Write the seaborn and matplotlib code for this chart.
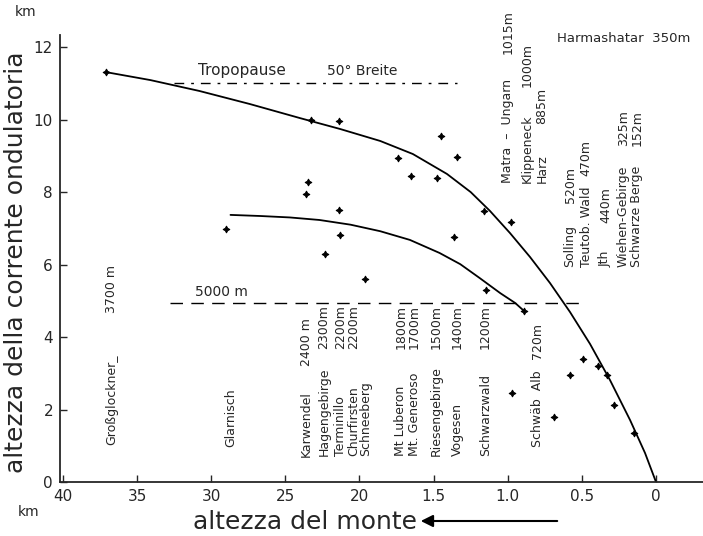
import matplotlib
matplotlib.use("Agg")
import matplotlib.pyplot as plt
import seaborn as sns
import pandas as pd

# observed points: mountain height (km) vs height of the wave current (km)
obs_x = [3.71, 2.33, 2.14, 2.35, 2.36, 2.14, 2.90, 2.13, 2.23, 1.96,
         1.45, 1.74, 1.34, 1.65, 1.48, 1.16, 0.98, 1.36, 1.15, 0.89,
         0.97, 0.69, 0.58, 0.49, 0.39, 0.33, 0.28, 0.15]
obs_y = [11.31, 9.99, 9.97, 8.28, 7.95, 7.50, 6.97, 6.82, 6.28, 5.59,
         9.54, 8.95, 8.97, 8.45, 8.39, 7.48, 7.18, 6.76, 5.30, 4.73,
         2.46, 1.80, 2.95, 3.39, 3.21, 2.94, 2.12, 1.36]

upper_x = [3.71, 3.41, 3.08, 2.74, 2.40, 2.13, 1.86, 1.64, 1.41, 1.25,
           1.12, 0.985, 0.85, 0.715, 0.58, 0.445, 0.31, 0.175, 0.074, 0.0]
upper_y = [11.31, 11.09, 10.79, 10.43, 10.04, 9.74, 9.41, 9.05, 8.50, 8.00,
           7.48, 6.87, 6.21, 5.49, 4.69, 3.81, 2.81, 1.71, 0.80, 0.0]
lower_x = [2.87, 2.67, 2.47, 2.27, 2.06, 1.86, 1.66, 1.46, 1.32, 1.19, 1.05, 0.95, 0.89]
lower_y = [7.37, 7.34, 7.30, 7.23, 7.10, 6.92, 6.68, 6.32, 6.01, 5.63, 5.21, 4.94, 4.72]

# reference levels
tropo_y, tropo_span = 11.0, (3.25, 1.34)
level5_y, level5_span = 4.95, (3.28, 0.50)

x_ticks = [4.0, 3.5, 3.0, 2.5, 2.0, 1.5, 1.0, 0.5, 0.0]
x_ticklabels = ["40", "35", "30", "25", "20", "1.5", "1.0", "0.5", "0"]
y_ticks = [0, 2, 4, 6, 8, 10, 12]

# mountain names: name sits on a base level, altitude hangs from a top level
mtn_names = ["Großglockner_", "Glarnisch", "Karwendel", "Hagengebirge", "Terminillo",
             "Churfirsten", "Schneeberg", "Mt Luberon", "Mt. Generoso", "Riesengebirge",
             "Vogesen", "Schwarzwald", "Schwäb  Alb",
             "Matra  –  Ungarn", "Klippeneck", "Harz",
             "Solling", "Teutob. Wald", "Jth", "Wiehen-Gebirge", "Schwarze Berge"]
mtn_alts = ["3700 m", "", "2400 m", "2300m", "2200m",
            "2200m", "", "1800m", "1700m", "1500m",
            "1400m", "1200m", "720m",
            "1015m", "1000m", "885m",
            "520m", "470m", "440m", "325m", "152m"]
mtn_x = [3.67, 2.87, 2.36, 2.24, 2.13, 2.04, 1.96, 1.72, 1.63, 1.48,
         1.34, 1.15, 0.80,
         1.00, 0.87, 0.77,
         0.58, 0.47, 0.34, 0.22, 0.13]
mtn_base = [1.02, 0.97, 0.69, 0.72, 0.72, 0.72, 0.72, 0.72, 0.72, 0.72,
            0.72, 0.72, 0.97,
            8.25, 8.25, 8.25,
            5.93, 5.93, 5.93, 5.93, 5.93]
mtn_top = [5.99, 0, 4.52, 4.88, 4.88, 4.88, 0, 4.88, 4.88, 4.88,
           4.88, 4.88, 4.39,
           13.02, 12.11, 10.87,
           8.69, 9.45, 8.14, 10.26, 10.26]

sns.set_style("ticks")
plt.rcParams['font.family'] = ['DejaVu Sans']

fig = plt.figure(figsize=(7.03, 5.36), dpi=100)
ax = fig.add_axes([60 / 703, 54 / 536, 643 / 703, 482 / 536])

obs = pd.DataFrame({"x": obs_x, "y": obs_y})
sns.scatterplot(data=obs, x="x", y="y", marker=(4, 1, 0), s=22, color="black",
                edgecolor="black", linewidth=0.8, ax=ax, zorder=3)
sns.lineplot(x=upper_x, y=upper_y, color="black", lw=1.3, ax=ax, sort=False)
sns.lineplot(x=lower_x, y=lower_y, color="black", lw=1.3, ax=ax, sort=False)

ax.hlines(tropo_y, *tropo_span, colors="black", lw=1.0, linestyles=(0, (7, 5, 2, 5)))
ax.hlines(level5_y, *level5_span, colors="black", lw=1.0, linestyles=(0, (9, 6)))

ax.text(3.09, 11.15, "Tropopause", fontsize=11, va="bottom")
ax.text(2.22, 11.15, "50° Breite", fontsize=10, va="bottom")
ax.text(3.11, 5.05, "5000 m", fontsize=10, va="bottom")
ax.text(0.67, 12.25, "Harmashatar  350m", fontsize=9.5, va="center")

for name, alt, x, y0, y1 in zip(mtn_names, mtn_alts, mtn_x, mtn_base, mtn_top):
    ax.text(x, y0, name, rotation=90, ha="center", va="bottom", fontsize=9)
    if alt:
        ax.text(x, y1, alt, rotation=90, ha="center", va="top", fontsize=9)

ax.set_xlim(4.02, -0.317)
ax.set_ylim(0, 13.3)
ax.set_xticks(x_ticks)
ax.set_xticklabels(x_ticklabels)
ax.set_yticks(y_ticks)
ax.tick_params(direction="in", length=5, width=1, labelsize=11, pad=5)
ax.set_xlabel("")
ax.set_ylabel("")
ax.spines["left"].set_bounds(0, 12.33)
ax.spines["left"].set_linewidth(1.3)
ax.spines["bottom"].set_linewidth(1.3)
sns.despine(ax=ax)

fig.text(15 / 703, 1 - 12 / 536, "km", fontsize=10, va="center")
fig.text(18 / 703, 1 - 512 / 536, "km", fontsize=10, va="center")
fig.text(16 / 703, 1 - 262 / 536, "altezza della corrente ondulatoria",
         rotation=90, fontsize=18, ha="center", va="center")
fig.text(305 / 703, 1 - 522 / 536, "altezza del monte", fontsize=18,
         ha="center", va="center")
fig.add_artist(matplotlib.patches.FancyArrowPatch(
    (560 / 703, 1 - 521 / 536), (418 / 703, 1 - 521 / 536),
    transform=fig.transFigure, arrowstyle="-|>", mutation_scale=18,
    color="black", lw=1.5))

fig.savefig("out.png", dpi=100)
